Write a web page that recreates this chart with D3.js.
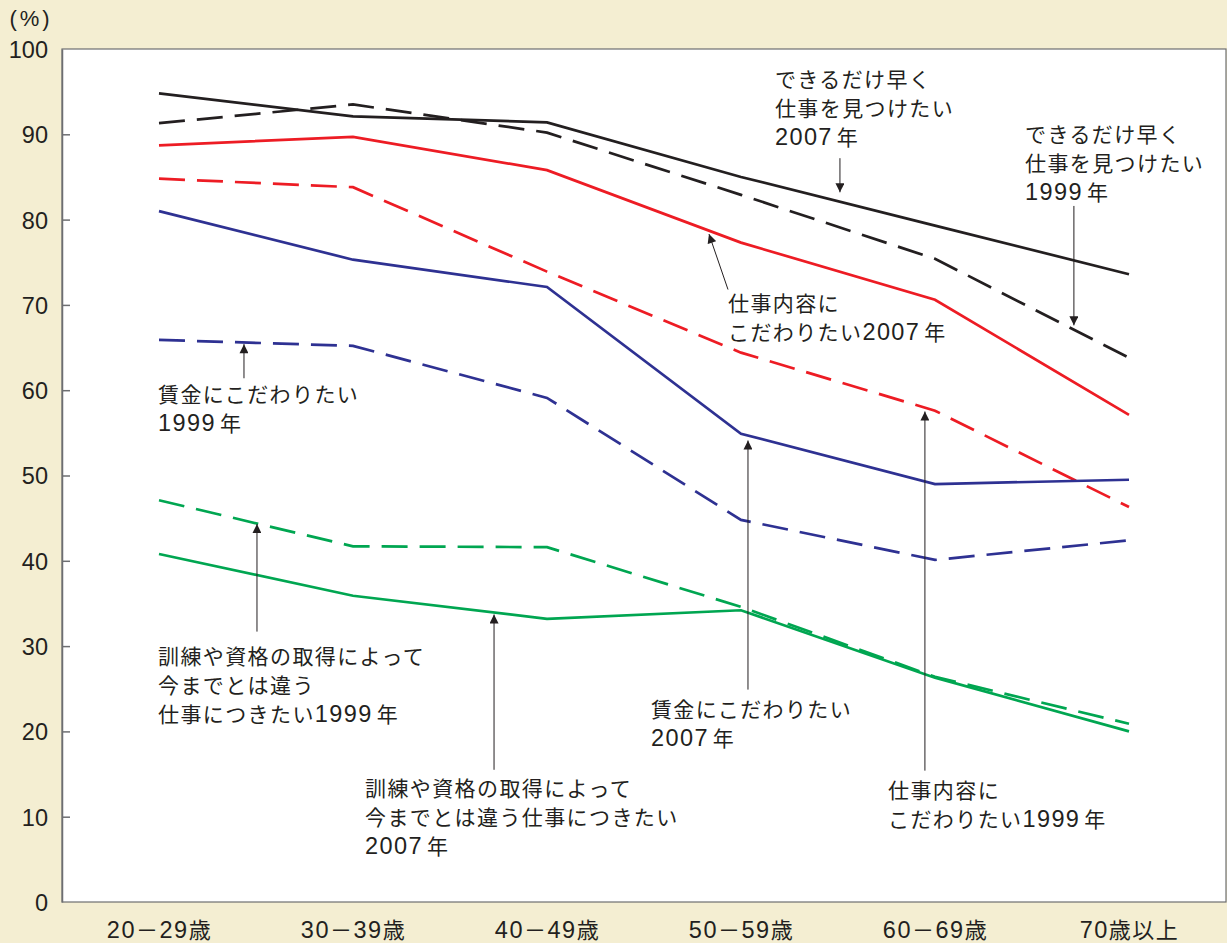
<!DOCTYPE html>
<html>
<head>
<meta charset="utf-8">
<script src="https://cdn.jsdelivr.net/npm/d3@7"></script>
<style>
  html, body { margin: 0; padding: 0; background: #f4eed2; }
  svg { display: block; }
  text { font-family: "Liberation Sans", Arial, "Noto Sans CJK JP", sans-serif; fill: #231f20; }
  .cjk { font-family: "Noto Sans CJK JP", sans-serif; }
</style>
</head>
<body>
<svg id="chart" width="1227" height="943"></svg>
<script>
// Age groups along the x axis
const ageGroups = ["20－29歳", "30－39歳", "40－49歳", "50－59歳", "60－69歳", "70歳以上"];
const yTicks = [0, 10, 20, 30, 40, 50, 60, 70, 80, 90, 100];

// Share (%) by reason, 2007 survey (solid) and 1999 survey (dashed)
const soonJob2007    = [94.8, 92.1, 91.4, 85.0, 79.3, 73.6];
const soonJob1999    = [91.3, 93.5, 90.2, 82.9, 75.4, 63.8];
const content2007    = [88.7, 89.7, 85.8, 77.3, 70.6, 57.1];
const content1999    = [84.8, 83.8, 73.9, 64.4, 57.6, 46.3];
const wage2007       = [81.0, 75.3, 72.1, 54.9, 49.0, 49.5];
const wage1999       = [65.9, 65.2, 59.1, 44.8, 40.1, 42.4];
const training2007   = [40.8, 35.9, 33.2, 34.2, 26.3, 20.0];
const training1999   = [47.1, 41.7, 41.6, 34.6, 26.4, 20.9];

const series = [
  { values: soonJob1999,  color: "#231f20", dashed: true },
  { values: soonJob2007,  color: "#231f20", dashed: false },
  { values: content1999,  color: "#ed1c24", dashed: true },
  { values: content2007,  color: "#ed1c24", dashed: false },
  { values: wage1999,     color: "#2e3192", dashed: true },
  { values: wage2007,     color: "#2e3192", dashed: false },
  { values: training1999, color: "#00a651", dashed: true },
  { values: training2007, color: "#00a651", dashed: false }
];

// Callout labels: text anchor and arrow (tail -> head) given in category index / percent
const callouts = [
  { lines: ["できるだけ早く", "仕事を見つけたい", "2007年"], tx: 3.175, ty: 95.55, arrow: [3.51, 87.2, 3.51, 83.2] },
  { lines: ["できるだけ早く", "仕事を見つけたい", "1999年"], tx: 4.464, ty: 89.1, arrow: [4.716, 81.6, 4.716, 67.6] },
  { lines: ["仕事内容に", "こだわりたい2007年"], tx: 2.933, ty: 69.3, arrow: [2.933, 71.8, 2.835, 78.3] },
  { lines: ["賃金にこだわりたい", "1999年"], tx: -0.005, ty: 58.6, arrow: [0.438, 61.4, 0.438, 65.4] },
  { lines: ["訓練や資格の取得によって", "今までとは違う", "仕事につきたい1999年"], tx: -0.005, ty: 27.9, arrow: [0.505, 31.7, 0.505, 44.3] },
  { lines: ["訓練や資格の取得によって", "今までとは違う仕事につきたい", "2007年"], tx: 1.062, ty: 12.4, arrow: [1.727, 15.5, 1.727, 33.7] },
  { lines: ["賃金にこだわりたい", "2007年"], tx: 2.536, ty: 21.7, arrow: [3.036, 24.9, 3.036, 54.1] },
  { lines: ["仕事内容に", "こだわりたい1999年"], tx: 3.758, ty: 12.2, arrow: [3.948, 15.4, 3.948, 57.5] }
];

const svg = d3.select("#chart");
const plot = { left: 62, right: 1226, top: 49, bottom: 902 };

const x = d3.scalePoint().domain(d3.range(ageGroups.length))
  .range([plot.left, plot.right]).padding(0.5);
const step = x.step();
const xPos = i => x(0) + i * step;
const y = d3.scaleLinear().domain([0, 100]).range([plot.bottom, plot.top]);

// Writes a mixed string as runs: digits in a Latin face, the rest in the CJK face.
// yearGap adds a small space between a number and a following 年.
function addRuns(sel, str, digitSize, cjkSize, yearGap) {
  const runs = str.split(/(\d+)/).filter(s => s.length);
  runs.forEach((run, k) => {
    const isDigit = /^\d+$/.test(run);
    const afterDigits = k > 0 && /^\d+$/.test(runs[k - 1]);
    sel.append("tspan")
      .attr("class", isDigit ? null : "cjk")
      .style("font-size", (isDigit ? digitSize : cjkSize) + "px")
      .attr("dx", !isDigit && afterDigits && run.startsWith("年") ? yearGap : null)
      .text(run);
  });
}

// Plot area
svg.append("rect")
  .attr("x", plot.left).attr("y", plot.top)
  .attr("width", plot.right - plot.left).attr("height", plot.bottom - plot.top)
  .attr("fill", "#ffffff").attr("stroke", "#6d6e71").attr("stroke-width", 1.2);

// Y axis with inward ticks
const yAxis = d3.axisLeft(y).tickValues(yTicks).tickSize(0).tickPadding(14);
const gy = svg.append("g").attr("transform", `translate(${plot.left},0)`).call(yAxis);
gy.select(".domain").attr("stroke", "#6d6e71").attr("stroke-width", 1.5);
gy.selectAll(".tick text").style("font-size", "23.5px").style("font-family", "'Liberation Sans', Arial, sans-serif")
  .attr("fill", "#231f20").attr("dy", "0.36em");
gy.selectAll(".tick").filter(d => d > 0 && d < 100).append("line")
  .attr("x1", 0).attr("x2", 8).attr("stroke", "#6d6e71").attr("stroke-width", 1.5);

// X axis labels
const xAxis = d3.axisBottom(x).tickSize(0).tickPadding(0).tickFormat(() => "");
const gx = svg.append("g").attr("transform", `translate(0,${plot.bottom})`).call(xAxis);
gx.select(".domain").remove();
gx.selectAll(".tick text").attr("y", 36).attr("dy", 0).attr("fill", "#231f20")
  .style("letter-spacing", "1.5px")
  .each(function(i) { addRuns(d3.select(this), ageGroups[i], 23.5, 22, 0); });

// Unit label
svg.append("text").attr("x", 31).attr("y", 26).attr("text-anchor", "middle")
  .style("font-size", "22px").style("letter-spacing", "3px").text("(%)");

// Lines
const line = d3.line().x((d, i) => x(i)).y(d => y(d));
svg.append("g").selectAll("path").data(series).join("path")
  .attr("d", d => line(d.values))
  .attr("fill", "none")
  .attr("stroke", d => d.color)
  .attr("stroke-width", 2.7)
  .attr("stroke-linejoin", "miter")
  .attr("stroke-dasharray", d => d.dashed ? "26,12" : null);

// Arrowhead
svg.append("defs").append("marker")
  .attr("id", "head").attr("viewBox", "0 0 10 10")
  .attr("refX", 10).attr("refY", 5)
  .attr("markerWidth", 10).attr("markerHeight", 9)
  .attr("markerUnits", "userSpaceOnUse")
  .attr("orient", "auto")
  .append("path").attr("d", "M0,0 L10,5 L0,10 Z").attr("fill", "#231f20");

const gc = svg.append("g");
callouts.forEach(c => {
  c.lines.forEach((ln, k) => {
    const t = gc.append("text")
      .attr("x", xPos(c.tx)).attr("y", y(c.ty) + k * 28.8)
      .style("letter-spacing", "1.4px");
    addRuns(t, ln, 23.5, 21, 4);
  });
  const [x1, y1, x2, y2] = c.arrow;
  gc.append("line")
    .attr("x1", xPos(x1)).attr("y1", y(y1))
    .attr("x2", xPos(x2)).attr("y2", y(y2))
    .attr("stroke", "#231f20").attr("stroke-width", 1)
    .attr("marker-end", "url(#head)");
});
</script>
</body>
</html>
